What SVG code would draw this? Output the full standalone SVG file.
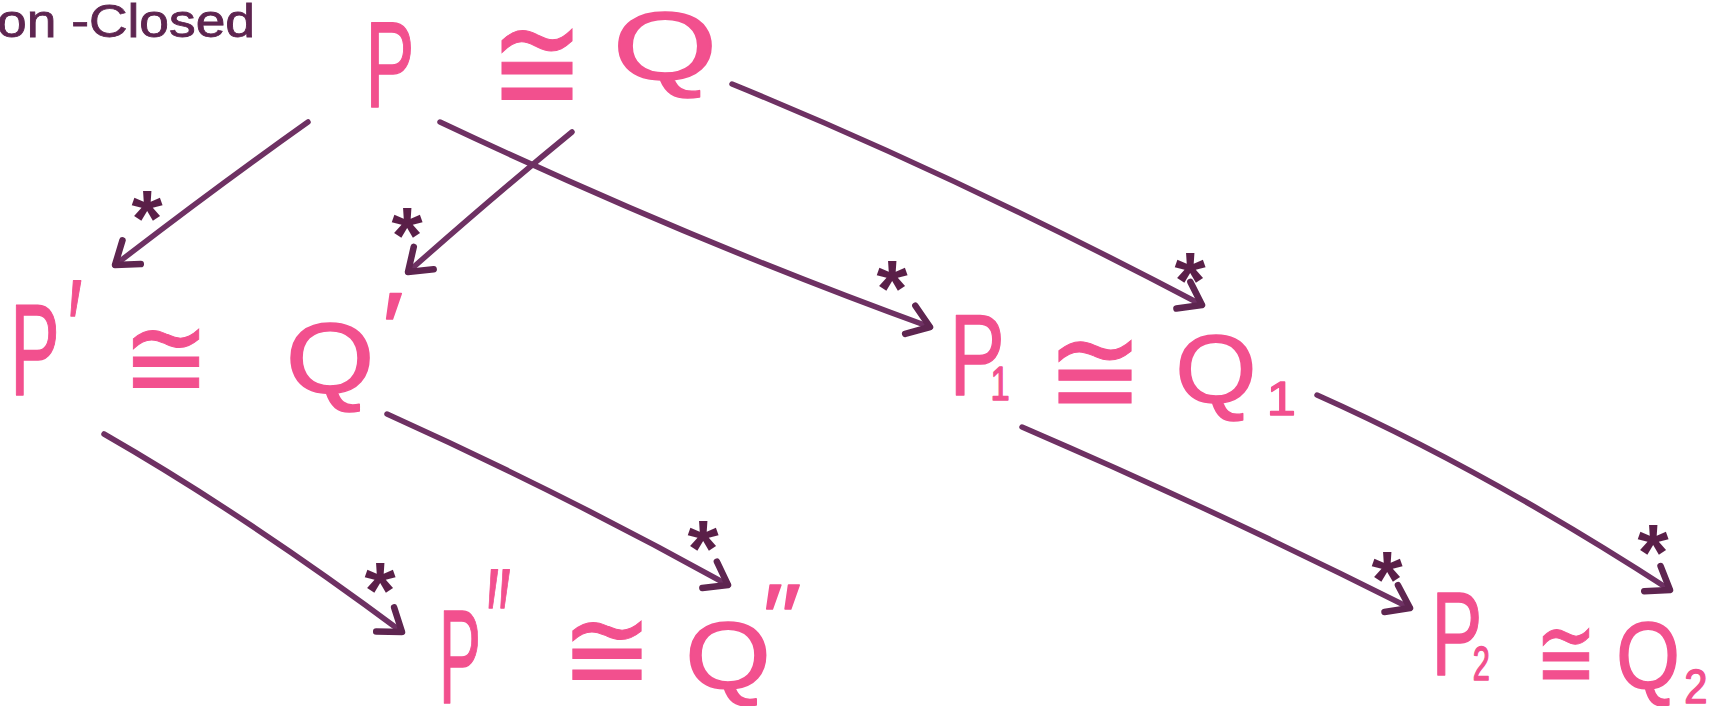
<svg xmlns="http://www.w3.org/2000/svg" width="1709" height="706" viewBox="0 0 1709 706">
<style>
.m{font-family:"Liberation Sans","DejaVu Sans",sans-serif;fill:#f2508e;stroke:#f2508e;stroke-width:1.5;stroke-linejoin:round;text-anchor:middle}
.eq{font-family:"DejaVu Sans","Liberation Sans",sans-serif;fill:#f2508e;stroke:#f2508e;stroke-width:1;text-anchor:middle}
.st{font-family:"Liberation Sans","DejaVu Sans",sans-serif;fill:#5a1f48;font-weight:bold;font-size:80px;text-anchor:middle}
.ttl{font-family:"Liberation Sans","DejaVu Sans",sans-serif;fill:#5e2550;stroke:#5e2550;stroke-width:0.8;font-size:46px}
.ar{fill:none;stroke:#6e3163;stroke-width:5.5;stroke-linecap:round;marker-end:url(#h)}
</style>
<defs>
<marker id="h" markerUnits="userSpaceOnUse" viewBox="-30 -20 36 40" refX="0" refY="0" markerWidth="36" markerHeight="40" orient="auto">
<path d="M-21,-15 L0,0 L-21,15" fill="none" stroke="#5e2550" stroke-width="6.5" stroke-linecap="round" stroke-linejoin="round"/>
</marker>
</defs>
<rect width="1709" height="706" fill="#fff"/>
<text class="ttl" x="-3" y="37" textLength="258" lengthAdjust="spacingAndGlyphs">on -Closed</text>

<g id="connectors">
<path class="ar" d="M308,122 Q215,188 115,265"/>
<path class="ar" d="M572,132 Q495,195 408,272"/>
<path class="ar" d="M440,122 Q690,240 930,327"/>
<path class="ar" d="M732,84 Q955,175 1202,305"/>
<path class="ar" d="M104,434 Q245,515 402,632"/>
<path class="ar" d="M387,414 Q560,492 728,585"/>
<path class="ar" d="M1022,427 Q1215,510 1410,608"/>
<path class="ar" d="M1317,395 Q1485,470 1670,590"/>
<text class="st" x="147" y="246">*</text>
<text class="st" x="407" y="263">*</text>
<text class="st" x="892" y="316">*</text>
<text class="st" x="1190" y="308">*</text>
<text class="st" x="380" y="618">*</text>
<text class="st" x="703" y="576">*</text>
<text class="st" x="1387" y="607">*</text>
<text class="st" x="1653" y="580">*</text>
</g>

<g id="node-P"><text class="m" font-size="122" transform="translate(390,107) scale(0.6,1)">P</text></g>
<g id="rel-1"><text class="eq" font-size="140" transform="translate(537,112) scale(0.8,1)">≅</text></g>
<g id="node-Q"><text class="m" font-size="96" transform="translate(665,80) scale(1.4,1)">Q</text></g>

<g id="node-P1p"><text class="m" font-size="130" transform="translate(35,395) scale(0.57,1)">P<tspan x="70" y="-18" font-size="140">′</tspan></text></g>
<g id="rel-2"><text class="eq" font-size="116" transform="translate(166,398) scale(0.9,1)">≅</text></g>
<g id="node-Q1p"><text class="m" font-size="100" transform="translate(330,393) scale(1.14,1)">Q<tspan x="55" y="-30">′</tspan></text></g>

<g id="node-P1"><text class="m" font-size="115" transform="translate(977,395) scale(0.72,1)">P<tspan x="32" y="5" font-size="48">1</tspan></text></g>
<g id="rel-3"><text class="eq" font-size="124" transform="translate(1095,414) scale(0.93,1)">≅</text></g>
<g id="node-Q1"><text class="m" font-size="96" transform="translate(1216,403) scale(1.09,1)">Q<tspan x="60" y="12" font-size="48">1</tspan></text></g>

<g id="node-P2p"><text class="m" font-size="134" transform="translate(460,703) scale(0.47,1)">P<tspan x="82" y="-30" font-size="150">″</tspan></text></g>
<g id="rel-4"><text class="eq" font-size="116" transform="translate(607,690) scale(0.94,1)">≅</text></g>
<g id="node-Q2p"><text class="m" font-size="94" transform="translate(728,688) scale(1.17,1)">Q<tspan x="46" y="-38">″</tspan></text></g>

<g id="node-P2"><text class="m" font-size="119" transform="translate(1457,675) scale(0.64,1)">P<tspan x="38" y="5" font-size="48">2</tspan></text></g>
<g id="rel-5"><text class="eq" font-size="100" transform="translate(1566,688) scale(0.73,1)">≅</text></g>
<g id="node-Q2"><text class="m" font-size="94" transform="translate(1648,688) scale(0.87,1)">Q<tspan x="55" y="15" font-size="48">2</tspan></text></g>
</svg>
